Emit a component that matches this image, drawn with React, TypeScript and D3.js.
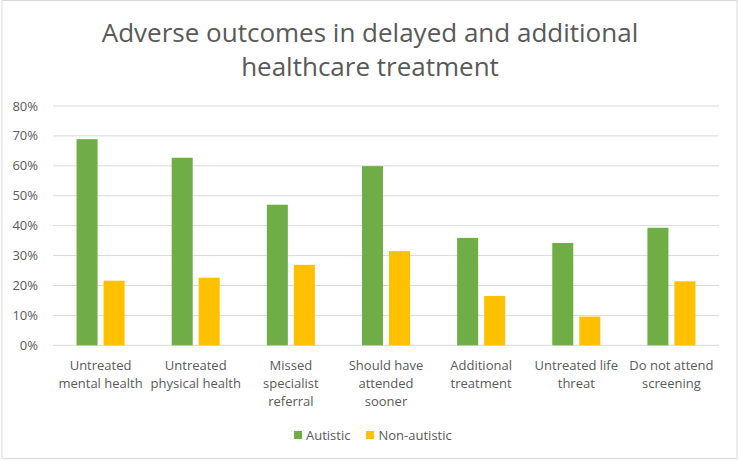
import React from "react";
import * as d3 from "d3";

const categories: string[][] = [
  ["Untreated", "mental health"],
  ["Untreated", "physical health"],
  ["Missed", "specialist", "referral"],
  ["Should have", "attended", "sooner"],
  ["Additional", "treatment"],
  ["Untreated life", "threat"],
  ["Do not attend", "screening"],
];
const seriesNames = ["Autistic", "Non-autistic"];
const autistic = [0.689, 0.627, 0.47, 0.599, 0.359, 0.342, 0.393];
const nonAutistic = [0.216, 0.226, 0.269, 0.315, 0.165, 0.096, 0.214];
const yTicks = [0, 0.1, 0.2, 0.3, 0.4, 0.5, 0.6, 0.7, 0.8];
const colors = ["#70AD47", "#FFC000"];

const W = 739;
const H = 461;
const font = "'Open Sans', 'Noto Sans', sans-serif";

export default function App() {
  const left = 53, right = 719, top = 106, bottom = 345.3;
  const keys = categories.map((c) => c.join(" "));
  const x0 = d3.scaleBand<string>().domain(keys).range([left, right]).padding(0);
  const x1 = d3
    .scaleBand<string>()
    .domain(seriesNames)
    .range([0, x0.bandwidth()])
    .paddingInner(6 / 27)
    .paddingOuter(0.872);
  const y = d3.scaleLinear().domain([0, 0.8]).range([bottom, top]);
  const fmt = d3.format(".0%");
  const data = [autistic, nonAutistic];

  return (
    <svg
      width={W}
      height={H}
      style={{ position: "absolute", left: 0, top: 0 }}
      fontFamily={font}
    >
      <rect x={0} y={0} width={W} height={H} fill="#fff" />
      <rect x={2} y={0.5} width={735} height={458} fill="#fff" stroke="#D9D9D9" strokeWidth={1} />
      <text x={370} y={42} textAnchor="middle" fontSize={26} fill="#595959">
        Adverse outcomes in delayed and additional
      </text>
      <text x={370} y={76} textAnchor="middle" fontSize={26} fill="#595959">
        healthcare treatment
      </text>
      {yTicks.map((t) => (
        <g key={t}>
          <line x1={left} x2={right} y1={y(t)} y2={y(t)} stroke="#D9D9D9" strokeWidth={1} />
          <text x={38} y={y(t)} dy="0.35em" textAnchor="end" fontSize={13} fill="#595959">
            {fmt(t)}
          </text>
        </g>
      ))}
      {keys.map((k, i) => (
        <g key={k} transform={`translate(${x0(k)},0)`}>
          {seriesNames.map((s, j) => (
            <rect
              key={s}
              x={x1(s)}
              y={y(data[j][i])}
              width={x1.bandwidth()}
              height={y(0) - y(data[j][i])}
              fill={colors[j]}
            />
          ))}
          {categories[i].map((line, li) => (
            <text
              key={li}
              x={x0.bandwidth() / 2}
              y={365 + li * 18.3}
              dy="0.35em"
              textAnchor="middle"
              fontSize={13}
              fill="#595959"
            >
              {line}
            </text>
          ))}
        </g>
      ))}
      <g>
        <rect x={294} y={431} width={8} height={8} fill={colors[0]} />
        <text x={306} y={435} dy="0.35em" fontSize={13} fill="#595959">
          {seriesNames[0]}
        </text>
        <rect x={366} y={431} width={8} height={8} fill={colors[1]} />
        <text x={378.5} y={435} dy="0.35em" fontSize={13} fill="#595959">
          {seriesNames[1]}
        </text>
      </g>
    </svg>
  );
}
